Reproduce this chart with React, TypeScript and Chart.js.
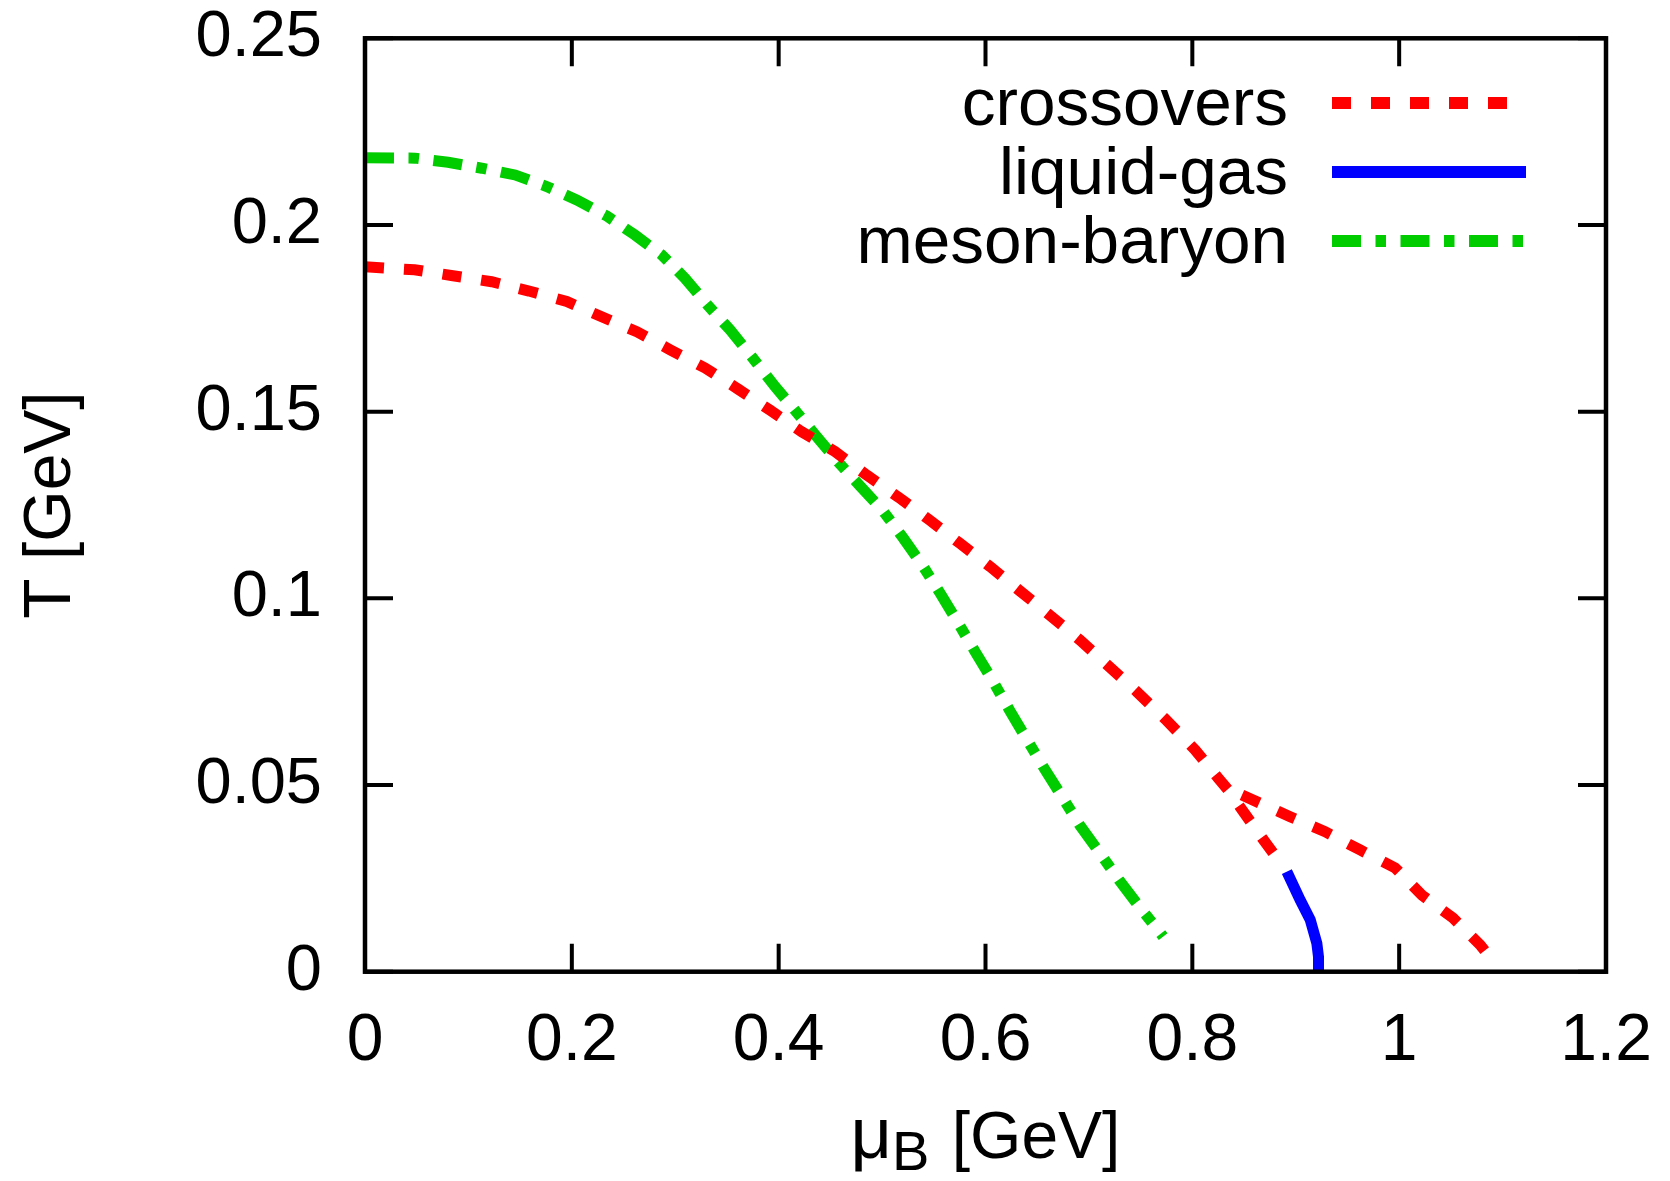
import React, { useEffect, useRef } from "react";
import { Chart, registerables } from "chart.js";

Chart.register(...registerables);

// ---- tick definitions ----
const xTicks = [0, 0.2, 0.4, 0.6, 0.8, 1, 1.2];
const xTickLabels = ["0", "0.2", "0.4", "0.6", "0.8", "1", "1.2"];
const yTicks = [0, 0.05, 0.1, 0.15, 0.2, 0.25];
const yTickLabels = ["0", "0.05", "0.1", "0.15", "0.2", "0.25"];

// ---- crossover line (main branch) ----
const crossoverMu = [0, 0.048, 0.085, 0.1225, 0.1586, 0.1951, 0.2289, 0.2628, 0.2956, 0.3288, 0.361, 0.3917, 0.4223, 0.4545, 0.4852, 0.5158, 0.5457, 0.5754, 0.6044, 0.6341, 0.6625, 0.6915, 0.7463, 0.7737, 0.8027, 0.8249, 0.8346, 0.8462, 0.8675, 0.8878];
const crossoverT = [0.1888, 0.188, 0.1864, 0.1848, 0.1823, 0.1795, 0.1754, 0.1714, 0.1665, 0.1617, 0.156, 0.1504, 0.1446, 0.1393, 0.133, 0.1271, 0.121, 0.1147, 0.1085, 0.1018, 0.0954, 0.0888, 0.075, 0.0677, 0.0594, 0.0519, 0.0487, 0.0441, 0.0358, 0.0281];

// ---- crossover line (second branch) ----
const crossover2Mu = [0.848, 0.8946, 0.9284, 0.9623, 0.9961, 1.022, 1.052, 1.0783, 1.086];
const crossover2T = [0.0473, 0.0415, 0.0375, 0.0326, 0.0278, 0.0205, 0.0144, 0.0072, 0.0045];

// ---- liquid-gas line ----
const liquidGasMu = [0.8914, 0.9043, 0.914, 0.9204, 0.922, 0.922];
const liquidGasT = [0.0268, 0.0192, 0.0139, 0.0076, 0.004, 0];

// ---- meson-baryon line ----
const mesonBaryonMu = [0, 0.0484, 0.0803, 0.1129, 0.1451, 0.1757, 0.2047, 0.2338, 0.2611, 0.2869, 0.3095, 0.3305, 0.353, 0.374, 0.3965, 0.4142, 0.4352, 0.4562, 0.4787, 0.5007, 0.5206, 0.5394, 0.5561, 0.5738, 0.59, 0.607, 0.6231, 0.64, 0.6567, 0.6744, 0.6915, 0.7108, 0.7295, 0.7495, 0.7657, 0.7718];
const mesonBaryonT = [0.218, 0.2179, 0.2168, 0.2152, 0.2134, 0.2103, 0.2067, 0.2024, 0.1973, 0.192, 0.1857, 0.1788, 0.1719, 0.1647, 0.1567, 0.1509, 0.1438, 0.1369, 0.1301, 0.1235, 0.1161, 0.1087, 0.1014, 0.0933, 0.0857, 0.0779, 0.0701, 0.0622, 0.0545, 0.0467, 0.0391, 0.0317, 0.0244, 0.0171, 0.0116, 0.0094];

const legendLabels = ["crossovers", "liquid-gas", "meson-baryon"];
const xTitleMain = "\u03BC";
const xTitleSub = "B";
const xTitleRest = " [GeV]";
const yTitle = "T [GeV]";

const FONT = "'Liberation Sans', Arial, Helvetica, sans-serif";
const RED = "#ff0000";
const BLUE = "#0000ff";
const GREEN = "#00cc00";
const LW = 11;
const RED_DASH = [19, 20];
const GREEN_DASH = [29, 14.5, 10.5, 14.5];

const W = 1670;
const H = 1181;
const AREA = { left: 365, right: 1606, top: 38.3, bottom: 971.7 };

function zip(xs: number[], ys: number[]) {
  return xs.map((x, i) => ({ x, y: ys[i] }));
}

function zeroPad(s: any) {
  s.paddingLeft = 0;
  s.paddingRight = 0;
  s.paddingTop = 0;
  s.paddingBottom = 0;
}

const framePlugin = {
  id: "frameTicks",
  afterDatasetsDraw(chart: any) {
    const { ctx, chartArea } = chart;
    const xs = chart.scales.x;
    const ys = chart.scales.y;
    const L = chartArea.left, R = chartArea.right, T = chartArea.top, B = chartArea.bottom;
    const tl = 28;
    ctx.save();
    ctx.strokeStyle = "#000";
    ctx.lineWidth = 4;
    ctx.setLineDash([]);
    ctx.beginPath();
    xTicks.forEach((v) => {
      const px = xs.getPixelForValue(v);
      ctx.moveTo(px, B);
      ctx.lineTo(px, B - tl);
      ctx.moveTo(px, T);
      ctx.lineTo(px, T + tl);
    });
    yTicks.forEach((v) => {
      const py = ys.getPixelForValue(v);
      ctx.moveTo(L, py);
      ctx.lineTo(L + tl, py);
      ctx.moveTo(R, py);
      ctx.lineTo(R - tl, py);
    });
    ctx.stroke();
    ctx.lineWidth = 4.5;
    ctx.strokeRect(L, T, R - L, B - T);
    ctx.restore();
  },
  afterDraw(chart: any) {
    const { ctx, chartArea } = chart;
    ctx.save();
    // legend
    const styles = [
      { color: RED, dash: RED_DASH },
      { color: BLUE, dash: [] as number[] },
      { color: GREEN, dash: GREEN_DASH },
    ];
    const rowY = [103, 172, 241];
    ctx.font = `67.5px ${FONT}`;
    ctx.fillStyle = "#000";
    ctx.textAlign = "right";
    ctx.textBaseline = "middle";
    legendLabels.forEach((lab, i) => {
      ctx.fillText(lab, 1288, rowY[i] + 3);
      ctx.beginPath();
      ctx.strokeStyle = styles[i].color;
      ctx.lineWidth = 12;
      ctx.lineCap = "butt";
      ctx.setLineDash(styles[i].dash);
      ctx.moveTo(1332, rowY[i]);
      ctx.lineTo(1526, rowY[i]);
      ctx.stroke();
    });
    ctx.setLineDash([]);
    // y title
    ctx.save();
    ctx.translate(70, (chartArea.top + chartArea.bottom) / 2);
    ctx.rotate(-Math.PI / 2);
    ctx.textAlign = "center";
    ctx.textBaseline = "alphabetic";
    ctx.font = `66px ${FONT}`;
    ctx.fillText(yTitle, 0, 0);
    ctx.restore();
    // x title
    const big = `66px ${FONT}`;
    const mu = `72px ${FONT}`;
    const small = `56px ${FONT}`;
    ctx.textAlign = "left";
    ctx.textBaseline = "alphabetic";
    ctx.font = mu;
    const w1 = ctx.measureText(xTitleMain).width;
    ctx.font = big;
    const w3 = ctx.measureText(xTitleRest).width;
    ctx.font = small;
    const w2 = ctx.measureText(xTitleSub).width;
    const gap = 4;
    const total = w1 + w2 + w3 + gap;
    const x0 = (chartArea.left + chartArea.right) / 2 - total / 2;
    const base = 1158;
    ctx.font = mu;
    ctx.fillText(xTitleMain, x0, base);
    ctx.font = small;
    ctx.fillText(xTitleSub, x0 + w1, base + 12);
    ctx.font = big;
    ctx.fillText(xTitleRest, x0 + w1 + w2 + gap, base);
    ctx.restore();
  },
};

export default function App() {
  const ref = useRef<HTMLCanvasElement | null>(null);
  useEffect(() => {
    document.body.style.margin = "0";
    const canvas = ref.current;
    if (!canvas) return;
    const lineDs = (data: any[], color: string, dash: number[]) => ({
      data,
      borderColor: color,
      backgroundColor: color,
      borderWidth: LW,
      borderDash: dash,
      borderCapStyle: "butt",
      borderJoinStyle: "miter",
      pointRadius: 0,
      pointHoverRadius: 0,
      fill: false,
      tension: 0,
      clip: 0,
    });
    const chart = new Chart(canvas, {
      type: "line",
      data: {
        datasets: [
          { label: legendLabels[0], ...lineDs(zip(crossoverMu, crossoverT), RED, RED_DASH) },
          { label: legendLabels[0] + " 2", ...lineDs(zip(crossover2Mu, crossover2T), RED, RED_DASH) },
          { label: legendLabels[1], ...lineDs(zip(liquidGasMu, liquidGasT), BLUE, []) },
          { label: legendLabels[2], ...lineDs(zip(mesonBaryonMu, mesonBaryonT), GREEN, GREEN_DASH) },
        ] as any,
      },
      options: {
        responsive: false,
        devicePixelRatio: 1,
        animation: false,
        events: [],
        layout: {
          padding: { left: 0, top: AREA.top, right: W - AREA.right, bottom: 0 },
        },
        plugins: {
          legend: { display: false },
          tooltip: { enabled: false },
          title: { display: false },
        },
        scales: {
          x: {
            type: "linear",
            min: 0,
            max: 1.2,
            afterBuildTicks: (s: any) => {
              s.ticks = xTicks.map((v) => ({ value: v }));
            },
            afterFit: (s: any) => {
              s.height = H - AREA.bottom;
              zeroPad(s);
            },
            grid: { display: false, drawTicks: false },
            border: { display: false },
            ticks: {
              callback: (_v: any, i: number) => xTickLabels[i],
              font: { size: 66, family: FONT, lineHeight: 1 },
              color: "#000",
              padding: 37,
              maxRotation: 0,
              autoSkip: false,
            },
          },
          y: {
            type: "linear",
            min: 0,
            max: 0.25,
            afterBuildTicks: (s: any) => {
              s.ticks = yTicks.map((v) => ({ value: v }));
            },
            afterFit: (s: any) => {
              s.width = AREA.left;
              zeroPad(s);
            },
            grid: { display: false, drawTicks: false },
            border: { display: false },
            ticks: {
              callback: (_v: any, i: number) => yTickLabels[i],
              font: { size: 65, family: FONT, lineHeight: 1 },
              color: "#000",
              padding: 43,
              autoSkip: false,
            },
          },
        },
      } as any,
      plugins: [framePlugin],
    });
    return () => chart.destroy();
  }, []);
  return (
    <div style={{ width: W, height: H, background: "#fff" }}>
      <canvas ref={ref} width={W} height={H} style={{ display: "block", width: W, height: H }} />
    </div>
  );
}
